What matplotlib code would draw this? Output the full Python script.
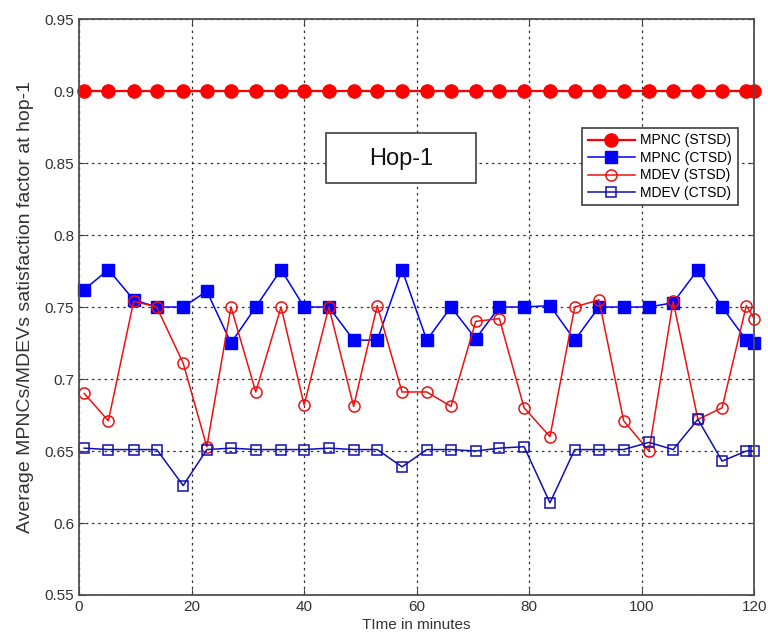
import matplotlib.pyplot as plt
from matplotlib.patches import Rectangle

# Tiempo de muestreo (minutos)
tiempo = [0.9, 5.2, 9.7, 13.8, 18.5, 22.7, 27.0, 31.4, 35.9, 40.0,
          44.4, 48.8, 53.0, 57.4, 61.8, 66.1, 70.5, 74.7, 79.1, 83.7,
          88.1, 92.4, 96.8, 101.3, 105.6, 110.0, 114.3, 118.6, 120.0]

mpnc_stsd = [0.9] * len(tiempo)

mpnc_ctsd = [0.762, 0.776, 0.755, 0.750, 0.750, 0.761, 0.725, 0.750, 0.776, 0.750,
             0.750, 0.727, 0.727, 0.776, 0.727, 0.750, 0.728, 0.750, 0.750, 0.751,
             0.727, 0.750, 0.750, 0.750, 0.753, 0.776, 0.750, 0.727, 0.725]

mdev_stsd = [0.690, 0.671, 0.754, 0.750, 0.711, 0.653, 0.750, 0.691, 0.750, 0.682,
             0.750, 0.681, 0.751, 0.691, 0.691, 0.681, 0.740, 0.742, 0.680, 0.660,
             0.750, 0.755, 0.671, 0.650, 0.754, 0.672, 0.680, 0.751, 0.742]

mdev_ctsd = [0.652, 0.651, 0.651, 0.651, 0.626, 0.651, 0.652, 0.651, 0.651, 0.651,
             0.652, 0.651, 0.651, 0.639, 0.651, 0.651, 0.650, 0.652, 0.653, 0.614,
             0.651, 0.651, 0.651, 0.656, 0.651, 0.672, 0.643, 0.650, 0.650]

etiquetas = ['MPNC (STSD)', 'MPNC (CTSD)', 'MDEV (STSD)', 'MDEV (CTSD)']

plt.rcParams['font.family'] = ['Liberation Sans', 'DejaVu Sans']

fig = plt.figure(figsize=(7.68, 6.35), dpi=100)
ax = fig.add_axes([0.103, 0.063, 0.879, 0.907])

ax.plot(tiempo, mpnc_stsd, '-o', color='#ff0000', lw=1.6, ms=9.5,
        mfc='#ff0000', mec='#ff0000', label=etiquetas[0], clip_on=False)
ax.plot(tiempo, mpnc_ctsd, '-s', color='#0000ff', lw=1.1, ms=8,
        mfc='#0000ff', mec='#0000ff', label=etiquetas[1], clip_on=False)
ax.plot(tiempo, mdev_stsd, '-o', color='#ee1111', lw=1.1, ms=8,
        mfc='none', mec='#ee1111', mew=1.1, label=etiquetas[2], clip_on=False)
ax.plot(tiempo, mdev_ctsd, '-s', color='#1010b0', lw=1.1, ms=6.5,
        mfc='none', mec='#1010b0', mew=1.1, label=etiquetas[3], clip_on=False)

ax.set_xlim(0, 120)
ax.set_ylim(0.55, 0.95)
ax.set_xticks([0, 20, 40, 60, 80, 100, 120])
ax.set_yticks([0.55, 0.6, 0.65, 0.7, 0.75, 0.8, 0.85, 0.9, 0.95])
ax.set_yticklabels(['0.55', '0.6', '0.65', '0.7', '0.75', '0.8', '0.85', '0.9', '0.95'])
ax.tick_params(direction='in', length=4, colors='#404040', labelsize=11,
               labelcolor='#333333', top=True, right=True)
for s in ax.spines.values():
    s.set_color('#505050')
    s.set_linewidth(1.3)

ax.grid(True, ls=(0, (2, 3)), color='#333333', lw=0.9)
ax.set_axisbelow(True)

ax.set_xlabel('TIme in minutes', fontsize=11, color='#333333', labelpad=3)
ax.set_ylabel('Average MPNCs/MDEVs satisfaction factor at hop-1', fontsize=14,
              color='#333333', labelpad=8)

# recuadro con el nombre del salto
ax.add_patch(Rectangle((43.9, 0.836), 26.6, 0.0346, fill=True, fc='white',
                       ec='#404040', lw=1.2, zorder=3))
ax.text(57.2, 0.853, 'Hop-1', ha='center', va='center', fontsize=17,
        color='#111111', zorder=4)

leg = ax.legend(loc='upper left', bbox_to_anchor=(0.745, 0.811), fontsize=10,
                frameon=True, fancybox=False, handlelength=3.4,
                borderpad=0.4, labelspacing=0.25, handletextpad=0.4,
                borderaxespad=0)
leg.get_frame().set_edgecolor('#404040')
leg.get_frame().set_linewidth(1.2)
leg.get_frame().set_alpha(1)

plt.savefig('out.png', dpi=100)
plt.close()
